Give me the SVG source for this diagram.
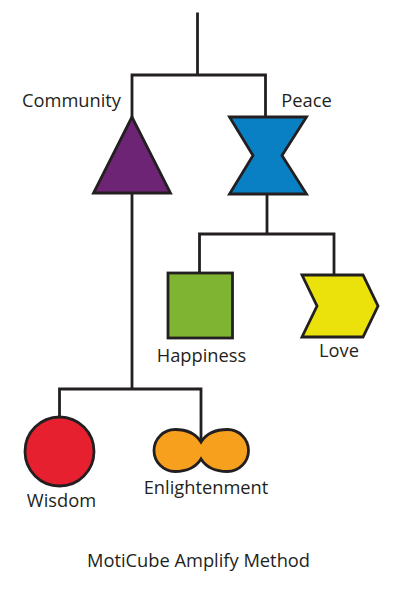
<svg xmlns="http://www.w3.org/2000/svg" width="401" height="592" viewBox="0 0 401 592">
<style>
.ln{fill:none;stroke:#231f20;stroke-width:2.8;stroke-linecap:square}
.sh{stroke:#231f20;stroke-width:2.8;stroke-linejoin:miter}
.t{font-family:"Open Sans","Liberation Sans",Arial,sans-serif;font-size:18.3px;fill:#231f20;text-anchor:middle}
</style>
<rect width="401" height="592" fill="#fff"/>
<g id="connectors">
<path class="ln" d="M197.5,14V75M132,75H265.5V117M132,75V117"/>
<path class="ln" d="M132,193V389M59.5,417V389H201V442"/>
<path class="ln" d="M267,194V234M199.5,273V234H334V275"/>
</g>
<g id="community">
<polygon class="sh" fill="#6e2474" points="132,117 93.5,193 170.5,193"/>
<text class="t" x="71.5" y="107">Community</text>
</g>
<g id="peace">
<polygon class="sh" fill="#0a80c4" points="229.5,117 306.5,117 282,155.5 306.5,194 229.5,194 253,155.5"/>
<text class="t" x="306.5" y="107">Peace</text>
</g>
<g id="happiness">
<rect class="sh" fill="#7fb432" x="168" y="273" width="64.5" height="65"/>
<text class="t" x="201.5" y="362">Happiness</text>
</g>
<g id="love">
<polygon class="sh" fill="#ece20b" points="302,275 363,275 378,306 363,337 302,337 317,306"/>
<text class="t" x="339" y="357">Love</text>
</g>
<g id="wisdom">
<circle class="sh" fill="#e6202e" cx="59.5" cy="451.5" r="34.5"/>
<text class="t" x="61.5" y="507">Wisdom</text>
</g>
<g id="enlightenment">
<path class="sh" fill="#f7a01e" d="M201,442C196,434 188,429.5 175,429.5A21,21 0 0 0 175,471.5C188,471.5 196,467 201,459C206,467 214,471.5 227.5,471.5A21,21 0 0 0 227.5,429.5C214,429.5 206,434 201,442Z"/>
<text class="t" x="206" y="494">Enlightenment</text>
</g>
<g id="title">
<text class="t" x="198.5" y="567">MotiCube Amplify Method</text>
</g>
</svg>
